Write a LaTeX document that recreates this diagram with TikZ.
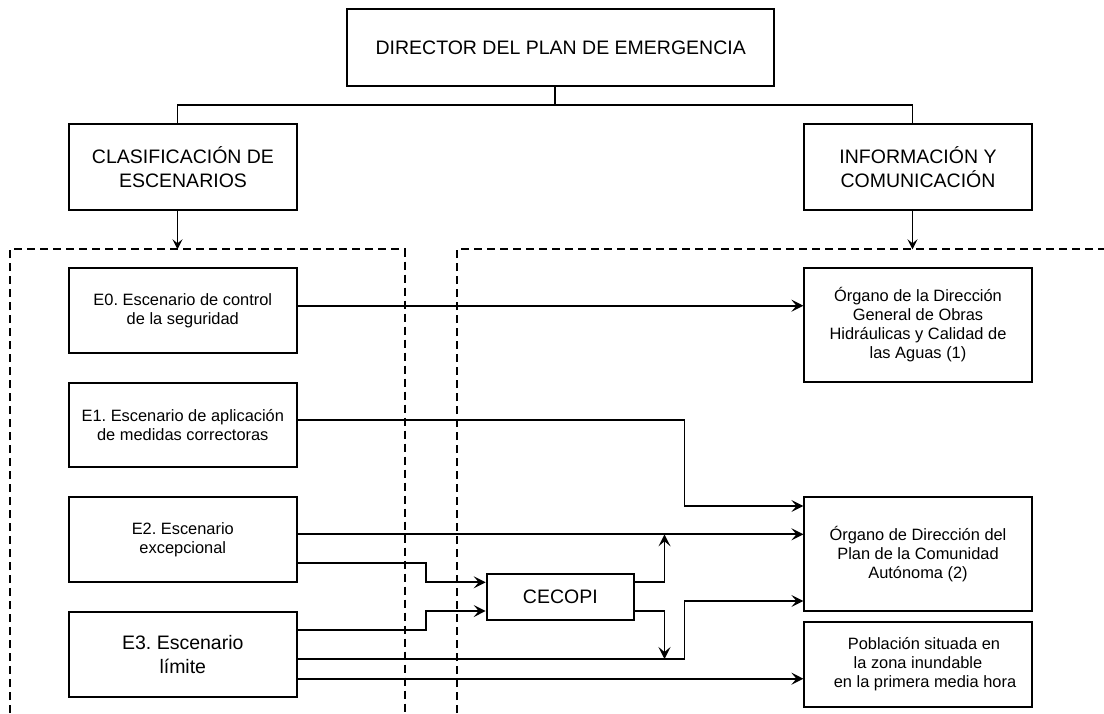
\documentclass[tikz,border=0pt]{standalone}
\usepackage{fontspec}
\setmainfont{Liberation Sans}
\usetikzlibrary{arrows.meta}
\frenchspacing
\begin{document}
\begin{tikzpicture}[x=1pt,y=-1pt,
 box/.style={draw, line width=1.8pt, inner sep=0pt, align=center},
 big/.style={font=\fontsize{19.5}{23.5}\selectfont},
 small/.style={font=\fontsize{16.4}{19}\selectfont},
 flow/.style={line width=1.7pt, -{Stealth[length=12pt,width=12pt,inset=5pt]}},
 tree/.style={line width=1.2pt},
 treearr/.style={line width=1.2pt, -{Stealth[length=10pt,width=10pt,inset=4pt]}},
 zone/.style={line width=1.8pt, dash pattern=on 8pt off 5pt}]
\useasboundingbox (0,0) rectangle (1104,713);
\fill[white] (0,0) rectangle (1104,713);

% boxes
\node[box, big, minimum width=426.7pt, minimum height=76.7pt] (dir) at (560.7,47.7) {DIRECTOR DEL PLAN DE EMERGENCIA};
\node[box, big, minimum width=227.4pt, minimum height=85.7pt] (clas) at (183,167.2) {CLASIFICACIÓN DE\\ESCENARIOS};
\node[box, big, minimum width=227.4pt, minimum height=85.7pt] (info) at (918,167.2) {INFORMACIÓN Y\\COMUNICACIÓN};

\node[box, small, minimum width=227.7pt, minimum height=84.4pt] (e0) at (182.8,310.5) {E0. Escenario de control\\de la seguridad};
\node[box, small, minimum width=227.7pt, minimum height=84.6pt] (e1) at (182.8,425) {E1. Escenario de aplicación\\de medidas correctoras};
\node[box, small, minimum width=227.7pt, minimum height=85pt] (e2) at (182.8,539.8) {E2. Escenario\\excepcional};
\node[box, font=\fontsize{19.5}{24.3}\selectfont, minimum width=227.7pt, minimum height=85pt] (e3) at (182.8,654.8) {E3. Escenario\\límite};

\node[box, big, minimum width=147.4pt, minimum height=45.7pt] (cec) at (560.3,597.2) {CECOPI};

\node[box, small, minimum width=227.4pt, minimum height=113.4pt] (org1) at (918,325) {Órgano de la Dirección\\General de Obras\\Hidráulicas y Calidad de\\las Aguas (1)};
\node[box, small, minimum width=227.4pt, minimum height=113.7pt] (org2) at (918,554.2) {Órgano de Dirección del\\Plan de la Comunidad\\Autónoma (2)};
\node[box, small, minimum width=227.4pt, minimum height=85pt] (pob) at (918,664.2) {\hspace*{12pt}Población situada en\\la zona inundable\\\hspace*{14pt}en la primera media hora};

% tree connectors
\coordinate (jt) at (555,105);
\coordinate (jl) at (177.3,105);
\coordinate (jr) at (912.3,105);
\draw[tree] (dir.south -| jt) -- (jt);
\draw[tree] (clas.north -| jl) -- (jl) -- (jr) -- (info.north -| jr);
\coordinate (zl) at (177.5,249.3);
\coordinate (zr) at (912.5,249.3);
\draw[treearr] (clas.south -| zl) -- (zl);
\draw[treearr] (info.south -| zr) -- (zr);

% dashed zones
\draw[zone] (10,713) -- (10,249.3) -- (405,249.3) -- (405,713);
\draw[zone] (456.7,713) -- (456.7,249.3) -- (1104,249.3);

% flows
\coordinate (r0) at (0,305.7);
\draw[flow] (e0.east |- r0) -- (org1.west |- r0);
\coordinate (k1) at (684.4,420.3);
\coordinate (k1b) at (684.4,506);
\draw[flow] (e1.east |- k1) -- (k1) -- (k1b) -- (org2.west |- k1b);
\coordinate (r2a) at (0,534.3);
\draw[flow] (e2.east |- r2a) -- (org2.west |- r2a);
\coordinate (k2) at (426,563.3);
\coordinate (k2b) at (426,582.3);
\draw[flow] (e2.east |- k2) -- (k2) -- (k2b) -- (cec.west |- k2b);
\coordinate (k3) at (426,629.7);
\coordinate (k3b) at (426,611);
\draw[flow] (e3.east |- k3) -- (k3) -- (k3b) -- (cec.west |- k3b);
\coordinate (k4) at (684.4,659);
\coordinate (k4b) at (684.4,601);
\draw[flow] (e3.east |- k4) -- (k4) -- (k4b) -- (org2.west |- k4b);
\coordinate (r3c) at (0,678.7);
\draw[flow] (e3.east |- r3c) -- (pob.west |- r3c);
\coordinate (c1) at (664.5,582.3);
\coordinate (c1b) at (664.5,534.3);
\draw[flow] (cec.east |- c1) -- (c1) -- (c1b);
\coordinate (c2) at (664.5,611);
\coordinate (c2b) at (664.5,659);
\draw[flow] (cec.east |- c2) -- (c2) -- (c2b);
\end{tikzpicture}
\end{document}
